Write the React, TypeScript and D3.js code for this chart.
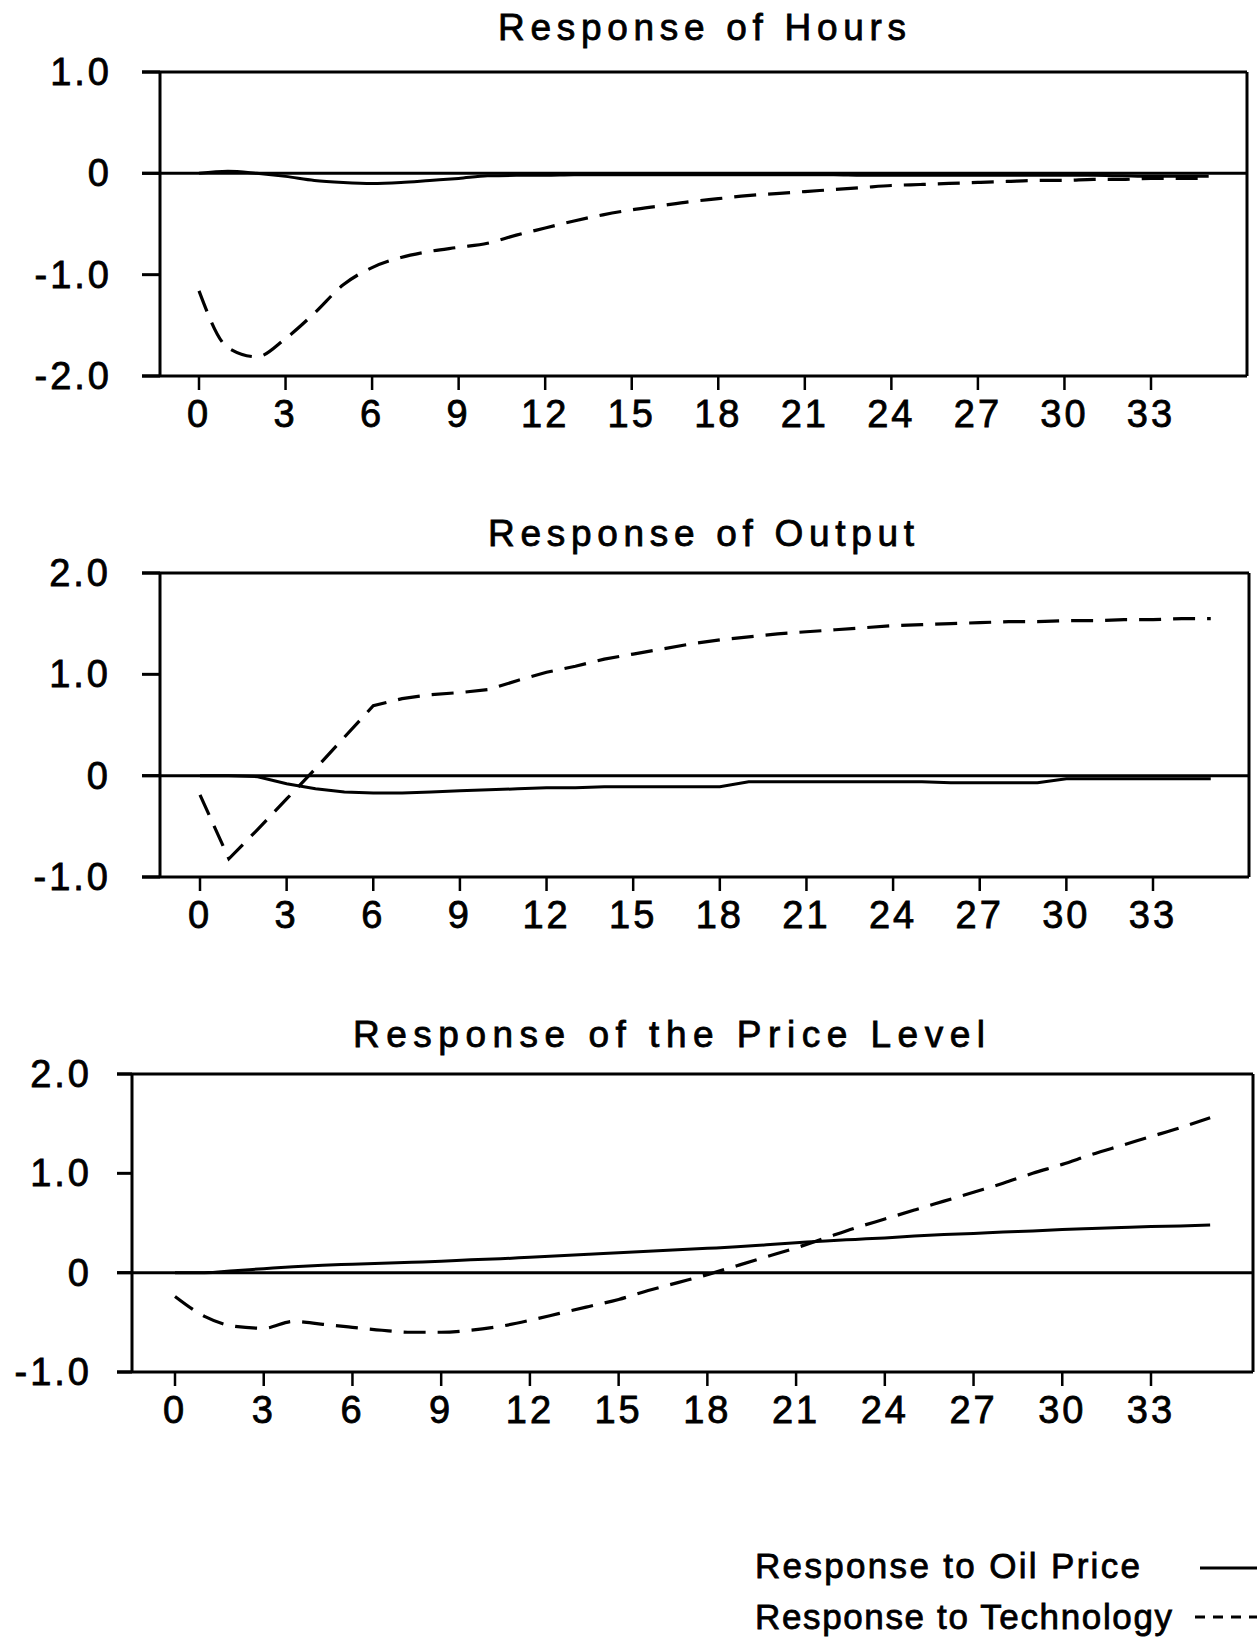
import React from "react";
import * as d3 from "d3";

// ---- data ----
const periods = [0,1,2,3,4,5,6,7,8,9,10,11,12,13,14,15,16,17,18,19,20,21,22,23,24,25,26,27,28,29,30,31,32,33,34,35];
const xTicks = [0,3,6,9,12,15,18,21,24,27,30,33];

const hoursOil = [0,0.02,0.0,-0.03,-0.07,-0.09,-0.1,-0.09,-0.07,-0.05,-0.025,-0.02,-0.02,-0.015,-0.015,-0.015,-0.015,-0.015,-0.015,-0.015,-0.015,-0.015,-0.015,-0.02,-0.02,-0.02,-0.02,-0.02,-0.02,-0.02,-0.02,-0.02,-0.025,-0.03,-0.03,-0.03];
const hoursTech = [-1.16,-1.72,-1.81,-1.63,-1.38,-1.1,-0.93,-0.83,-0.77,-0.73,-0.69,-0.61,-0.54,-0.47,-0.41,-0.36,-0.32,-0.28,-0.25,-0.22,-0.2,-0.18,-0.16,-0.14,-0.12,-0.11,-0.1,-0.09,-0.08,-0.07,-0.07,-0.06,-0.06,-0.05,-0.05,-0.05];

const outputOil = [0,0,-0.01,-0.08,-0.13,-0.16,-0.17,-0.17,-0.16,-0.15,-0.14,-0.13,-0.12,-0.12,-0.11,-0.11,-0.11,-0.11,-0.11,-0.06,-0.06,-0.06,-0.06,-0.06,-0.06,-0.06,-0.07,-0.07,-0.07,-0.07,-0.03,-0.03,-0.03,-0.03,-0.03,-0.03];
const outputTech = [-0.19,-0.82,-0.53,-0.23,0.07,0.38,0.69,0.76,0.8,0.82,0.85,0.94,1.02,1.08,1.15,1.2,1.25,1.3,1.34,1.37,1.4,1.42,1.44,1.46,1.48,1.49,1.5,1.51,1.52,1.52,1.53,1.53,1.54,1.54,1.55,1.55];

const priceOil = [0,0,0.02,0.04,0.06,0.075,0.085,0.095,0.105,0.115,0.13,0.14,0.155,0.17,0.185,0.2,0.215,0.23,0.245,0.26,0.28,0.3,0.32,0.335,0.35,0.37,0.385,0.395,0.41,0.42,0.435,0.445,0.455,0.465,0.47,0.48];
const priceTech = [-0.24,-0.44,-0.54,-0.56,-0.49,-0.52,-0.55,-0.58,-0.6,-0.6,-0.58,-0.54,-0.48,-0.41,-0.34,-0.27,-0.18,-0.1,-0.02,0.07,0.16,0.25,0.35,0.45,0.54,0.63,0.72,0.81,0.9,1.0,1.09,1.19,1.28,1.37,1.46,1.56];

const titles = ["Response of Hours", "Response of Output", "Response of the Price Level"];
const yTicksHours = [1, 0, -1, -2];
const yTicksOther = [2, 1, 0, -1];
const legendLabels = ["Response to Oil Price", "Response to Technology"];

// ---- layout ----
const W = 1257, H = 1639;
const FONT = "'Liberation Sans', Arial, sans-serif";
const TXT_STROKE = 0.8;

type Panel = {
  title: string; oil: number[]; tech: number[]; yTicks: number[];
  left: number; right: number; top: number; bottom: number;
  x0: number; x33: number; tickStart: number; labelRight: number;
  titleX: number; titleY: number; titleLen: number; smooth: boolean;
};

const panels: Panel[] = [
  { title: titles[0], oil: hoursOil, tech: hoursTech, yTicks: yTicksHours,
    left: 160, right: 1247, top: 72, bottom: 376, x0: 199, x33: 1151, tickStart: 142, labelRight: 112,
    titleX: 702, titleY: 40, titleLen: 408, smooth: true },
  { title: titles[1], oil: outputOil, tech: outputTech, yTicks: yTicksOther,
    left: 160, right: 1249, top: 573, bottom: 877, x0: 200, x33: 1153, tickStart: 142, labelRight: 111,
    titleX: 701, titleY: 546, titleLen: 426, smooth: false },
  { title: titles[2], oil: priceOil, tech: priceTech, yTicks: yTicksOther,
    left: 132, right: 1253, top: 1074, bottom: 1372, x0: 175, x33: 1151, tickStart: 117, labelRight: 92,
    titleX: 669, titleY: 1047, titleLen: 632, smooth: true },
];

const fmt = (v: number) => (v === 0 ? "0" : d3.format(".1f")(v).replace("\u2212", "-"));

function PanelView({ p }: { p: Panel }) {
  const x = d3.scaleLinear().domain([0, 33]).range([p.x0, p.x33]);
  const yDom = d3.extent(p.yTicks) as [number, number];
  const y = d3.scaleLinear().domain(yDom).range([p.bottom, p.top]);
  const line = d3.line<number>()
    .x((_, i) => x(periods[i]))
    .y((d) => y(d))
    .curve(p.smooth ? d3.curveMonotoneX : d3.curveLinear);
  const sw = 3;
  return (
    <g>
      <text x={p.titleX} y={p.titleY} textAnchor="middle" fontFamily={FONT} fontSize={37}
        textLength={p.titleLen} lengthAdjust="spacing" fill="#000" stroke="#000" strokeWidth={TXT_STROKE}>{p.title}</text>
      {/* frame */}
      <line x1={p.tickStart} x2={p.right} y1={p.top} y2={p.top} stroke="#000" strokeWidth={sw} />
      <line x1={p.tickStart} x2={p.right} y1={p.bottom} y2={p.bottom} stroke="#000" strokeWidth={sw} />
      <line x1={p.left} x2={p.left} y1={p.top} y2={p.bottom} stroke="#000" strokeWidth={sw} />
      <line x1={p.right} x2={p.right} y1={p.top} y2={p.bottom} stroke="#000" strokeWidth={sw} />
      {/* zero line */}
      <line x1={p.tickStart} x2={p.right} y1={y(0)} y2={y(0)} stroke="#000" strokeWidth={sw} />
      {/* y ticks */}
      {p.yTicks.map((t) => (
        <g key={t}>
          <line x1={p.tickStart} x2={p.left} y1={y(t)} y2={y(t)} stroke="#000" strokeWidth={sw} />
          <text x={p.labelRight} y={y(t)} textAnchor="end" dominantBaseline="central"
            fontFamily={FONT} fontSize={38} letterSpacing={3} fill="#000" stroke="#000" strokeWidth={TXT_STROKE}>{fmt(t)}</text>
        </g>
      ))}
      {/* x ticks */}
      {xTicks.map((t) => (
        <g key={t}>
          <line x1={x(t)} x2={x(t)} y1={p.bottom} y2={p.bottom + 14} stroke="#000" strokeWidth={2.5} />
          <text x={x(t)} y={p.bottom + 51} textAnchor="middle" fontFamily={FONT} fontSize={38}
            letterSpacing={3} fill="#000" stroke="#000" strokeWidth={TXT_STROKE}>{t}</text>
        </g>
      ))}
      {/* series */}
      <path d={line(p.oil) || ""} fill="none" stroke="#000" strokeWidth={3} />
      <path d={line(p.tech) || ""} fill="none" stroke="#000" strokeWidth={3.2} strokeDasharray="22,12" />
    </g>
  );
}

export default function App() {
  return (
    <svg width={W} height={H} viewBox={`0 0 ${W} ${H}`}
      style={{ position: "absolute", left: 0, top: 0, display: "block", background: "#fff" }}>
      <rect x={0} y={0} width={W} height={H} fill="#fff" />
      {panels.map((p, i) => <PanelView key={i} p={p} />)}
      {/* legend */}
      <text x={755} y={1578} fontFamily={FONT} fontSize={35} textLength={385} lengthAdjust="spacing"
        fill="#000" stroke="#000" strokeWidth={TXT_STROKE}>{legendLabels[0]}</text>
      <line x1={1200} x2={1257} y1={1568} y2={1568} stroke="#000" strokeWidth={3} />
      <text x={755} y={1629} fontFamily={FONT} fontSize={35} textLength={417} lengthAdjust="spacing"
        fill="#000" stroke="#000" strokeWidth={TXT_STROKE}>{legendLabels[1]}</text>
      <line x1={1195} x2={1257} y1={1617} y2={1617} stroke="#000" strokeWidth={3} strokeDasharray="10,8" />
    </svg>
  );
}
